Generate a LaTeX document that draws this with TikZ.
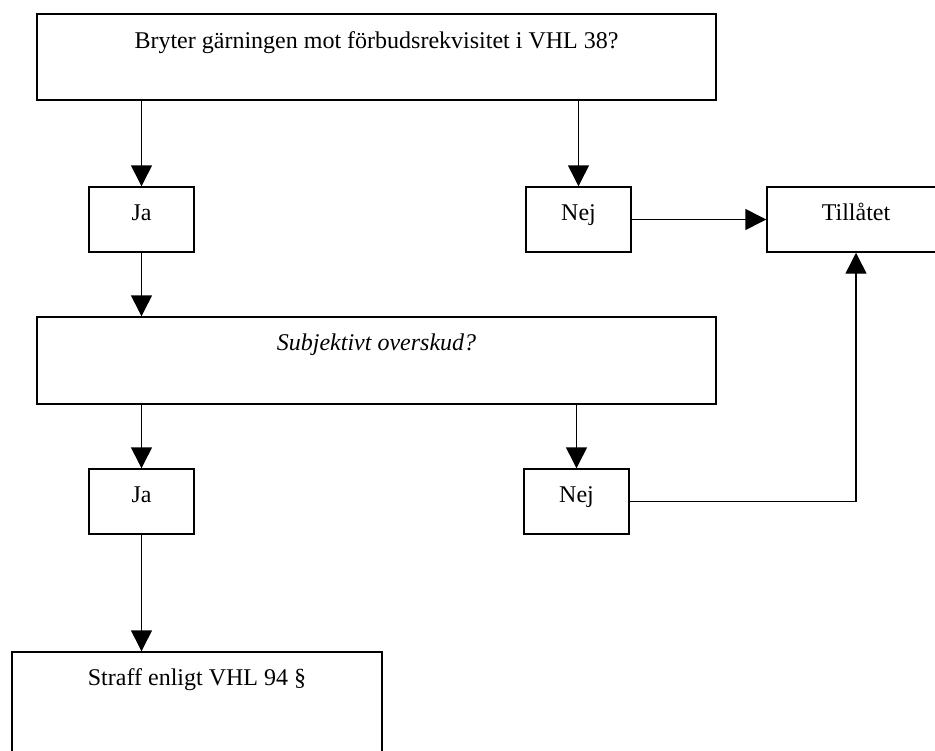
\documentclass[tikz,border=0pt]{standalone}
\usepackage{fontspec}
\setmainfont{Liberation Serif}
\usetikzlibrary{arrows.meta}

\begin{document}
\begin{tikzpicture}[
    x=0.75pt, y=-0.75pt,
    font=\fontsize{18}{21.6}\selectfont,
    box/.style={draw, line width=1.1pt, rectangle, inner sep=0pt,
                text height=12pt},
    wide/.style={box, minimum width=509.25pt},
    small/.style={box, minimum width=78.75pt, minimum height=48.75pt,
                  text depth=9.8pt},
    arr/.style={line width=1.1pt, -{Triangle[length=15.75pt, width=15.75pt]}}
  ]
  \useasboundingbox (0,0) rectangle (935,750);
  \clip (0,0) rectangle (935,750);

  % question boxes
  \node[wide, minimum height=64.5pt, text depth=25.5pt] (box1) at (376.5,57)
    {Bryter gärningen mot förbudsrekvisitet i VHL 38?};
  \node[wide, minimum height=65.25pt, text depth=27.75pt] (box2) at (376.5,360.5)
    {\itshape Subjektivt overskud?};

  % answer boxes
  \node[small] (ja1)  at (141.5,219.5) {Ja};
  \node[small] (nej1) at (578.5,219.5) {Nej};
  \node[small] (ja2)  at (141.5,501.5) {Ja};
  \node[small] (nej2) at (576.5,501.5) {Nej};

  % outcomes (running past the page edge)
  \node[small, minimum width=133.5pt] (till) at (856,219.5) {Tillåtet};
  \node[box, minimum width=277.5pt, minimum height=97.5pt, text depth=60pt]
    (box3) at (197,717) {Straff enligt VHL 94 §};

  % connectors
  \draw[arr] (box1.south -| ja1.north) -- (ja1.north);
  \draw[arr] (box1.south -| nej1.north) -- (nej1.north);
  \draw[arr] (nej1) -- (till);
  \draw[arr] (ja1.south) -- (ja1.south |- box2.north);
  \draw[arr] (box2.south -| ja2.north) -- (ja2.north);
  \draw[arr] (box2.south -| nej2.north) -- (nej2.north);
  \draw[arr] (ja2.south) -- (ja2.south |- box3.north);
  \coordinate (corner) at (856,501.5);
  \draw[arr] (nej2.east) -- (corner) -- (corner |- till.south);
\end{tikzpicture}
\end{document}
